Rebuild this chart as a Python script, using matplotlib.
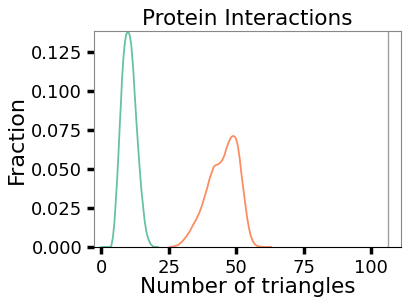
import matplotlib
matplotlib.use("Agg")
import matplotlib.pyplot as plt

# Values (density curves).
green_x = [0.0, 3.0, 3.7, 4.3, 4.9, 5.4, 5.9, 6.4, 6.8, 7.3, 7.7, 8.2, 8.65, 9.2,
           9.9, 10.5, 11.1, 11.8, 12.4, 13.0, 13.6, 14.2, 14.8, 15.5, 16.1,
           16.7, 17.3, 18.2, 19.2, 21.0]
green_y = [0.0, 0.0, 0.0005, 0.006, 0.0164, 0.030, 0.044, 0.061, 0.076, 0.093,
           0.108, 0.121, 0.1295, 0.136, 0.138, 0.136, 0.1295, 0.115, 0.0975,
           0.081, 0.0655, 0.051, 0.0378, 0.026, 0.0164, 0.010, 0.0058, 0.002,
           0.0003, 0.0]

orange_x = [25.4, 27.0, 28.5, 30.0, 31.5, 32.8, 34.0, 35.3, 36.5, 37.4, 38.3,
            39.3, 40.2, 41.0, 41.7, 42.5, 43.3, 44.1, 44.9, 45.7, 46.4, 47.2,
            47.9, 48.4, 48.9, 49.4, 49.9, 50.6, 51.3, 52.0, 52.8, 53.5, 54.1,
            54.7, 55.3, 56.1, 56.9, 57.8, 58.8, 60.5, 63.0]
orange_y = [0.0, 0.0004, 0.0013, 0.0035, 0.0066, 0.010, 0.0141, 0.018, 0.0226,
            0.027, 0.0322, 0.038, 0.044, 0.048, 0.0514, 0.0525, 0.0529, 0.054,
            0.0557, 0.059, 0.0632, 0.067, 0.0696, 0.0707, 0.0711, 0.0707,
            0.0696, 0.065, 0.0568, 0.046, 0.0354, 0.026, 0.0184, 0.0125,
            0.0077, 0.0040, 0.0017, 0.0007, 0.0002, 0.00005, 0.0]

vline_x = 106.2
xticks = [0, 25, 50, 75, 100]
yticks = [0.0, 0.025, 0.05, 0.075, 0.1, 0.125]

fig = plt.figure(figsize=(4.11, 3.08), dpi=100)
ax = fig.add_axes([94 / 411, 61 / 308, 307 / 411, 216 / 308])

ax.plot(green_x, green_y, color="#66c2a5", lw=1.3)
ax.plot(orange_x, orange_y, color="#fc8d62", lw=1.3)
ax.axvline(vline_x, color="#a0a0a0", lw=1.0)

ax.set_xlim(-2.7, 111.1)
ax.set_ylim(0, 0.1383)
ax.set_xticks(xticks)
ax.set_yticks(yticks)
ax.set_yticklabels(["%.3f" % v for v in yticks])
ax.tick_params(axis="both", labelsize=13, length=5, width=2.5, color="black")

for side in ["left", "top", "right"]:
    ax.spines[side].set_color("#888888")
ax.spines["bottom"].set_color("black")

ax.set_title("Protein Interactions", fontsize=15.5, pad=4)
ax.set_xlabel("Number of triangles", fontsize=15.5, labelpad=0)
ax.set_ylabel("Fraction", fontsize=16, labelpad=3)

fig.savefig("out.png", dpi=100)
